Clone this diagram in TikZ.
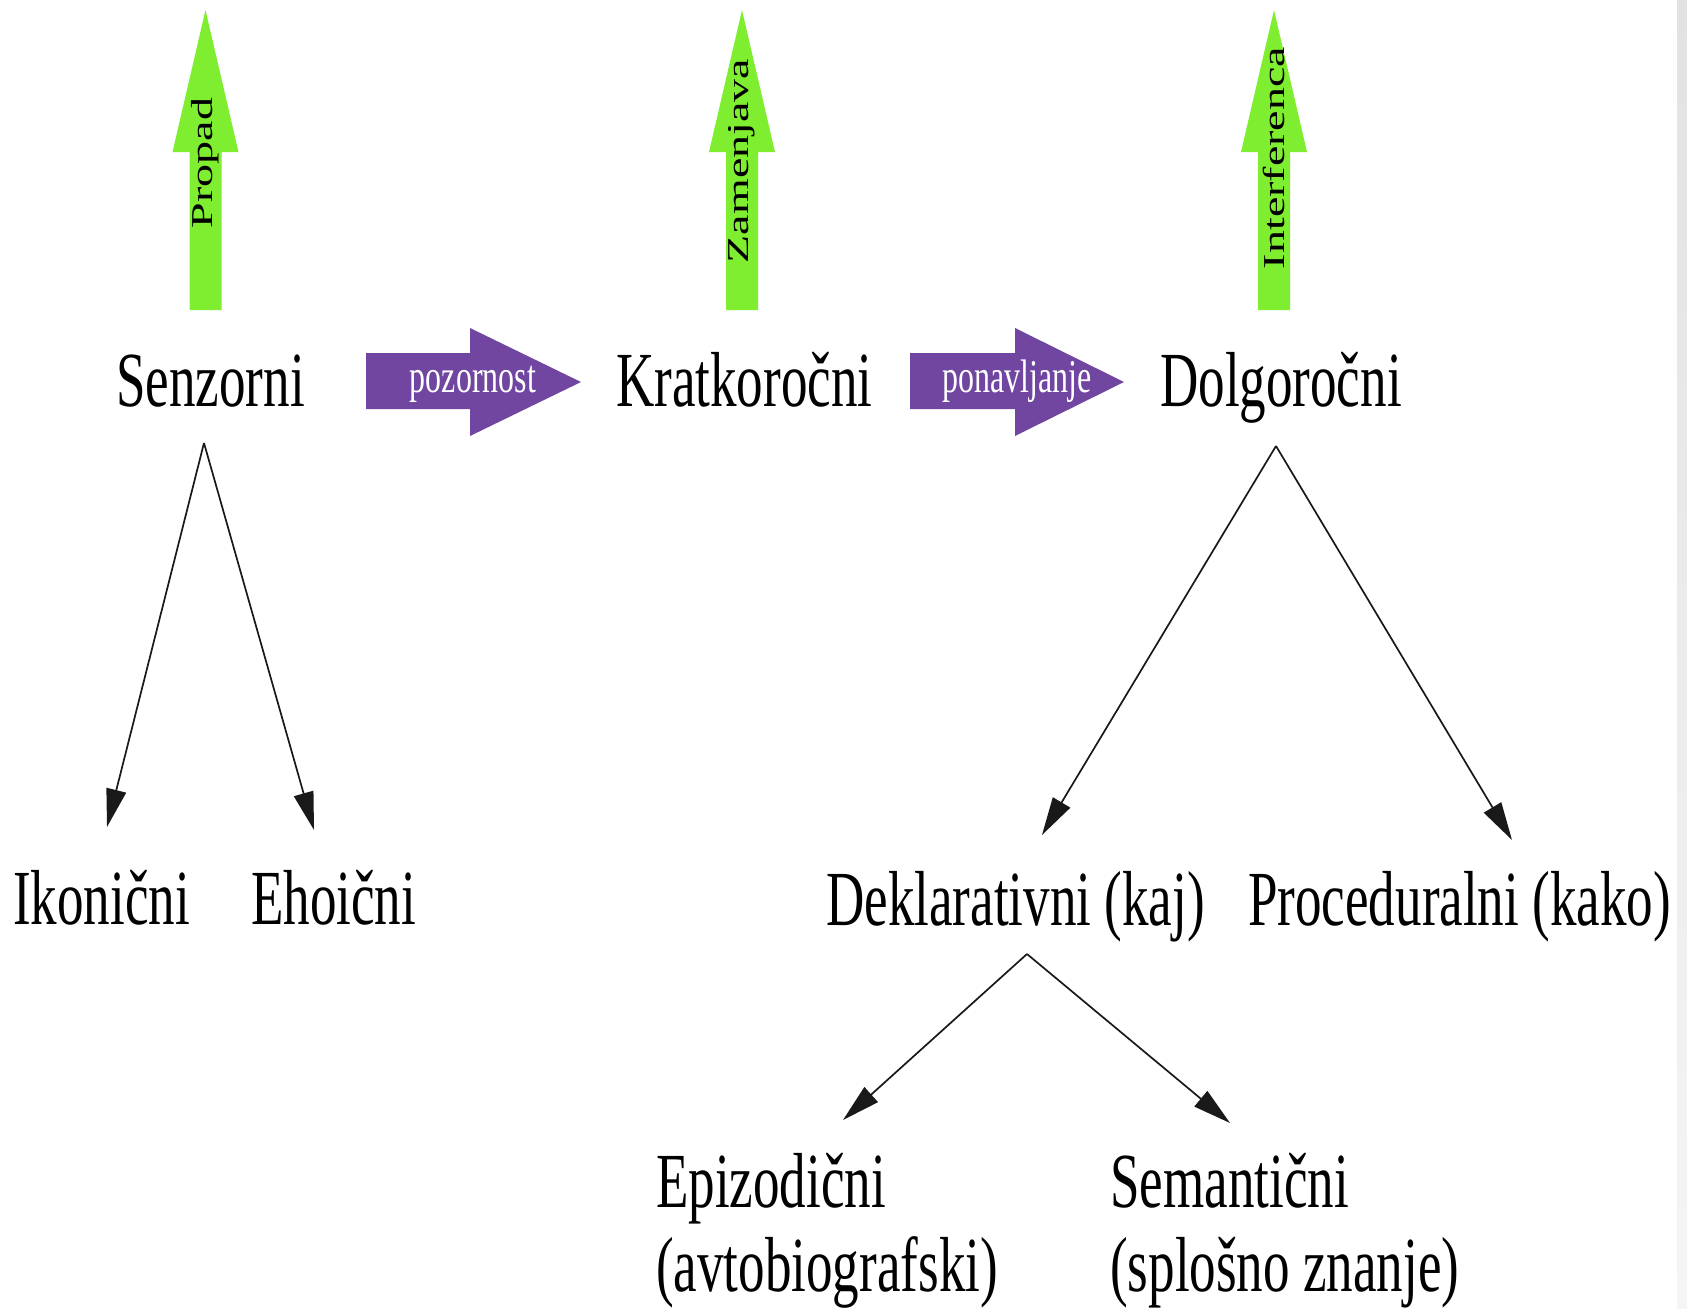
\documentclass[tikz,border=0pt]{standalone}
\usepackage{graphicx}
\usepackage{fontspec}
\setmainfont{Liberation Serif}
\usetikzlibrary{arrows.meta,calc}
\definecolor{limegreen}{RGB}{128,238,48}
\definecolor{violetbox}{RGB}{112,70,160}
\definecolor{stripetop}{RGB}{226,226,226}
\definecolor{stripebot}{RGB}{245,245,245}
\newcommand{\nar}[1]{\scalebox{0.68}[1]{#1}}
\newcommand{\flatten}[1]{\scalebox{1}[0.66]{#1}}
\tikzset{
  big/.style={inner sep=0pt, anchor=base west, font=\fontsize{78}{84}\selectfont},
  conn/.style={draw=black!90, line width=1.7pt, -{Triangle[length=38pt,width=20pt]}},
  gbox/.style={fill=limegreen},
  pbox/.style={fill=violetbox},
  vlab/.style={rotate=90, inner sep=0pt, font=\fontsize{46}{46}\selectfont},
  plab/.style={text=white, inner sep=0pt, anchor=base, font=\fontsize{47}{47}\selectfont},
}
\begin{document}
\begin{tikzpicture}[x=1pt,y=-1pt]
\fill[white] (0,0) rectangle (1687,1309);
\useasboundingbox (0,0) rectangle (1687,1309);
\shade[top color=stripetop, bottom color=stripebot] (1677,0) rectangle (1687,1309);

% green arrows
\foreach \cx in {205.5,742,1274}{
  \fill[gbox] (\cx-16,310) -- (\cx-16,152) -- (\cx-33,152) -- (\cx,10) -- (\cx+33,152) -- (\cx+16,152) -- (\cx+16,310) -- cycle;
}
\node[vlab] (propad) at (205,163) {\flatten{Propad}};
\node[vlab] (zamen) at (742,161) {\flatten{Zamenjava}};
\node[vlab] (interf) at (1274,158) {\flatten{Interferenca}};

% purple arrows
\fill[pbox] (366,353) -- (470,353) -- (470,328) -- (581,382) -- (470,436) -- (470,409) -- (366,409) -- cycle;
\fill[pbox] (910,353) -- (1015,353) -- (1015,328) -- (1124,382) -- (1015,436) -- (1015,409) -- (910,409) -- cycle;
\node[plab] (poz) at (473,392) {\nar{pozornost}};
\node[plab] (pon) at (1017,392) {\nar{ponavljanje}};

% text nodes
\node[big] (sen) at (116,406) {\nar{Senzorni}};
\node[big] (kra) at (616,406) {\nar{Kratkoročni}};
\node[big] (dol) at (1160,406) {\nar{Dolgoročni}};
\node[big] (iko) at (13,924) {\nar{Ikonični}};
\node[big] (eho) at (251,924) {\nar{Ehoični}};
\node[big] (dek) at (826,925) {\nar{Deklarativni (kaj)}};
\node[big] (pro) at (1248,925) {\nar{Proceduralni (kako)}};
\node[big] (epi) at (656,1207) {\nar{\begin{tabular}[t]{@{}l@{}}Epizodični\\(avtobiografski)\end{tabular}}};
\node[big] (sem) at (1110,1207) {\nar{\begin{tabular}[t]{@{}l@{}}Semantični\\(splošno znanje)\end{tabular}}};

% connector endpoints
\coordinate (sen-o) at (204,443);
\coordinate (iko-i) at (107,827);
\coordinate (eho-i) at (314,830);
\coordinate (dol-o) at (1276,446);
\coordinate (dek-i) at (1042,835);
\coordinate (pro-i) at (1512,840);
\coordinate (dek-o) at (1027,954);
\coordinate (epi-i) at (843,1120);
\coordinate (sem-i) at (1230,1123);

\draw[conn] (sen-o) -- (iko-i);
\draw[conn] (sen-o) -- (eho-i);
\draw[conn] (dol-o) -- (dek-i);
\draw[conn] (dol-o) -- (pro-i);
\draw[conn] (dek-o) -- (epi-i);
\draw[conn] (dek-o) -- (sem-i);
\end{tikzpicture}
\end{document}
